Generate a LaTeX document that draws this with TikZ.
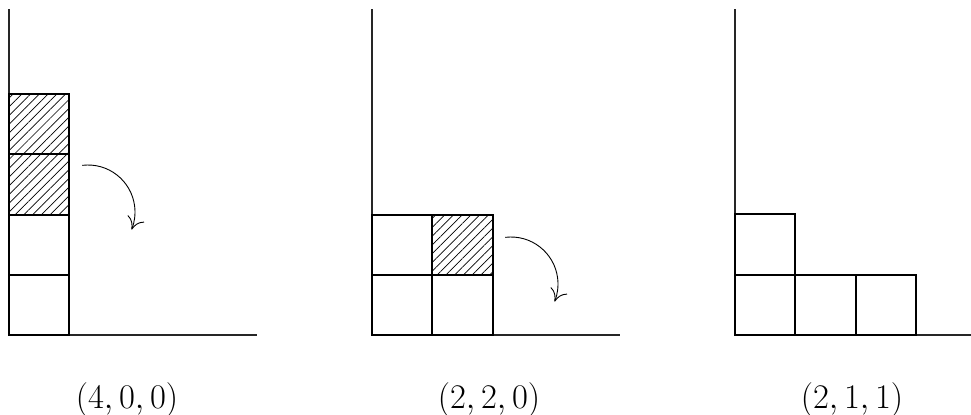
\documentclass[tikz,border=0pt]{standalone}
\usetikzlibrary{patterns.meta,arrows.meta}
\begin{document}
\begin{tikzpicture}[x=0.5pt,y=-0.5pt,
  axis/.style={line width=0.75pt,draw=black!85},
  cell/.style={line width=0.7pt,draw=black},
  hatched/.style={cell,pattern={Lines[angle=45,distance=3.1pt,line width=0.35pt]}},
  turn/.style={line width=0.45pt,-{To[length=6pt,width=9pt]}},
  lbl/.style={anchor=base,font=\fontsize{16.5}{19}\selectfont}]
\useasboundingbox (0,0) rectangle (971,414);
% panel 1
\draw[axis] (9,9) -- (9,335) -- (257,335);
\draw[cell] (9,275) rectangle (69,335);
\draw[cell] (9,215) rectangle (69,275);
\draw[hatched] (9,154) rectangle (69,215);
\draw[hatched] (9,94) rectangle (69,154);
\draw[turn] (88,212) ++(-97:47) arc[start angle=-97,end angle=22,radius=47];
\node[lbl] (l1) at (127,408) {$(4,0,0)$};
% panel 2
\draw[axis] (372,9) -- (372,335) -- (620,335);
\draw[cell] (372,275) rectangle (432,335);
\draw[cell] (432,275) rectangle (493,335);
\draw[cell] (372,215) rectangle (432,275);
\draw[hatched] (432,215) rectangle (493,275);
\draw[turn] (511,284) ++(-97:47) arc[start angle=-97,end angle=22,radius=47];
\node[lbl] (l2) at (489,408) {$(2,2,0)$};
% panel 3
\draw[axis] (735,9) -- (735,335) -- (983,335);
\draw[cell] (735,275) rectangle (795,335);
\draw[cell] (795,275) rectangle (856,335);
\draw[cell] (856,275) rectangle (916,335);
\draw[cell] (735,214) rectangle (795,275);
\node[lbl] (l3) at (852,408) {$(2,1,1)$};
\end{tikzpicture}
\end{document}
